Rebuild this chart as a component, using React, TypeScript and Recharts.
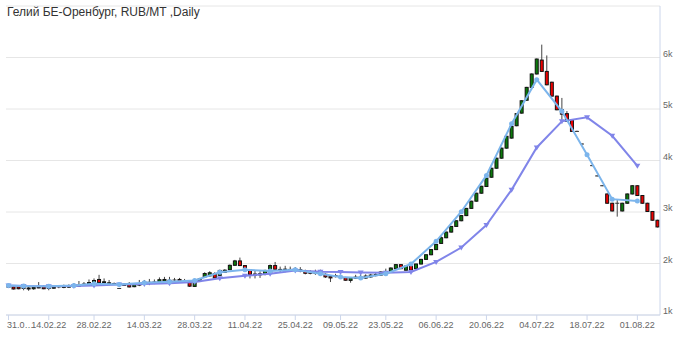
import React from 'react';
import { ComposedChart, Bar, Line, XAxis, YAxis, CartesianGrid } from 'recharts';

const dates = [
  '31.01.22', '03.02.22', '04.02.22', '07.02.22', '08.02.22', '09.02.22', '10.02.22', '11.02.22',
  '14.02.22', '15.02.22', '16.02.22', '17.02.22', '18.02.22', '21.02.22', '22.02.22', '24.02.22', '25.02.22',
  '28.02.22', '01.03.22', '02.03.22', '03.03.22', '04.03.22', '07.03.22', '08.03.22', '09.03.22', '10.03.22', '11.03.22',
  '14.03.22', '15.03.22', '16.03.22', '17.03.22', '18.03.22', '21.03.22', '22.03.22', '23.03.22', '24.03.22', '25.03.22',
  '28.03.22', '29.03.22', '30.03.22', '31.03.22', '01.04.22', '04.04.22', '05.04.22', '06.04.22', '07.04.22', '08.04.22',
  '11.04.22', '12.04.22', '13.04.22', '14.04.22', '15.04.22', '18.04.22', '19.04.22', '20.04.22', '21.04.22', '22.04.22',
  '25.04.22', '26.04.22', '27.04.22', '28.04.22', '29.04.22', '02.05.22', '04.05.22', '05.05.22', '06.05.22',
  '09.05.22', '11.05.22', '12.05.22', '13.05.22', '16.05.22', '17.05.22', '18.05.22', '19.05.22', '20.05.22',
  '23.05.22', '24.05.22', '25.05.22', '26.05.22', '27.05.22', '30.05.22', '31.05.22', '01.06.22', '02.06.22', '03.06.22',
  '06.06.22', '07.06.22', '08.06.22', '09.06.22', '10.06.22', '13.06.22', '14.06.22', '15.06.22', '16.06.22', '17.06.22',
  '20.06.22', '21.06.22', '22.06.22', '23.06.22', '24.06.22', '27.06.22', '28.06.22', '29.06.22', '30.06.22', '01.07.22',
  '04.07.22', '05.07.22', '06.07.22', '07.07.22', '08.07.22', '11.07.22', '12.07.22', '13.07.22', '14.07.22', '15.07.22',
  '18.07.22', '19.07.22', '20.07.22', '21.07.22', '22.07.22', '25.07.22', '26.07.22', '27.07.22', '28.07.22', '29.07.22',
  '01.08.22', '02.08.22', '03.08.22', '04.08.22', '05.08.22',
];

const open = [
  1560, 1545, 1545, 1530, 1520, 1510, 1540, 1545, 1530, 1535,
  1545, 1550, 1555, 1565, 1575, 1580, 1600, 1615, 1690, 1640,
  1620, 1610, 1515, 1590, 1590, 1550, 1595, 1605, 1630, 1635,
  1640, 1660, 1670, 1680, 1690, 1660, 1640, 1555, 1650, 1740,
  1760, 1800, 1770, 1830, 1880, 1965, 2050, 1960, 1870, 1790,
  1795, 1790, 1890, 1960, 1880, 1885, 1880, 1880, 1875, 1855,
  1845, 1830, 1835, 1790, 1745, 1760, 1750, 1725, 1672, 1730,
  1735, 1717, 1740, 1780, 1775, 1840, 1848, 1900, 1978, 1870,
  1960, 1900, 1990, 2080, 2170, 2270, 2390, 2500, 2610, 2720,
  2830, 2930, 3070, 3210, 3365, 3495, 3675, 3850, 4045, 4240,
  4435, 4675, 4920, 5170, 5420, 5680, 5950, 5730, 5520, 5250,
  4990, 4910, 4790, 4565, 4320, 4110, 3900, 3700, 3510, 3350,
  3170, 3170, 3020, 3170, 3350, 3510, 3320, 3170, 3010, 2840,
];

const high = [
  1580, 1570, 1575, 1580, 1560, 1570, 1640, 1580, 1570, 1560,
  1580, 1590, 1595, 1620, 1660, 1640, 1690, 1710, 1780, 1710,
  1680, 1630, 1520, 1620, 1640, 1620, 1680, 1680, 1700, 1690,
  1730, 1740, 1740, 1720, 1720, 1700, 1660, 1660, 1720, 1830,
  1850, 1830, 1880, 1890, 1980, 2070, 2115, 1970, 1880, 1860,
  1850, 1880, 1980, 2030, 1940, 1955, 1940, 1930, 1930, 1880,
  1870, 1880, 1880, 1810, 1760, 1800, 1780, 1740, 1730, 1780,
  1790, 1790, 1800, 1820, 1850, 1900, 1925, 1990, 1990, 1960,
  1990, 2000, 2090, 2180, 2280, 2380, 2530, 2620, 2730, 2840,
  2940, 3080, 3220, 3375, 3510, 3670, 3860, 4055, 4250, 4480,
  4670, 4920, 5170, 5430, 5690, 5980, 6250, 6040, 5530, 5260,
  5215, 4960, 4800, 4580, 4335, 4125, 3915, 3715, 3525, 3360,
  3180, 3230, 3180, 3360, 3520, 3520, 3330, 3180, 3020, 2850,
];

const low = [
  1530, 1495, 1500, 1480, 1470, 1490, 1520, 1500, 1480, 1510,
  1520, 1520, 1525, 1540, 1545, 1565, 1580, 1600, 1620, 1590,
  1575, 1595, 1510, 1570, 1535, 1540, 1560, 1590, 1580, 1600,
  1620, 1640, 1620, 1640, 1640, 1640, 1545, 1545, 1640, 1720,
  1745, 1700, 1760, 1820, 1870, 1955, 1950, 1890, 1710, 1710,
  1720, 1770, 1880, 1880, 1830, 1830, 1840, 1840, 1830, 1790,
  1790, 1780, 1800, 1720, 1640, 1730, 1720, 1665, 1627, 1700,
  1700, 1700, 1720, 1750, 1760, 1800, 1840, 1890, 1890, 1860,
  1860, 1890, 1980, 2070, 2160, 2260, 2380, 2490, 2600, 2710,
  2820, 2920, 3060, 3200, 3355, 3485, 3665, 3840, 4035, 4230,
  4425, 4665, 4910, 5160, 5410, 5670, 5720, 5460, 5240, 4975,
  4790, 4750, 4555, 4555, 4310, 4100, 3890, 3690, 3500, 3160,
  3010, 2910, 3010, 3160, 3340, 3310, 3160, 3000, 2830, 2700,
];

const close = [
  1545, 1505, 1510, 1535, 1525, 1535, 1545, 1510, 1535, 1540,
  1545, 1555, 1560, 1570, 1580, 1600, 1630, 1670, 1630, 1645,
  1625, 1612, 1515, 1595, 1545, 1590, 1600, 1640, 1635, 1640,
  1685, 1690, 1675, 1680, 1655, 1660, 1560, 1640, 1700, 1805,
  1820, 1720, 1865, 1870, 1965, 2050, 1960, 1900, 1790, 1795,
  1800, 1865, 1960, 1890, 1885, 1890, 1885, 1880, 1878, 1810,
  1810, 1832, 1838, 1740, 1720, 1765, 1745, 1675, 1720, 1735,
  1738, 1756, 1775, 1785, 1835, 1845, 1912, 1978, 1900, 1950,
  1870, 1990, 2080, 2170, 2270, 2370, 2500, 2610, 2720, 2830,
  2930, 3070, 3210, 3365, 3500, 3660, 3850, 4045, 4240, 4470,
  4660, 4910, 5160, 5420, 5680, 5970, 5730, 5470, 5250, 4985,
  4900, 4760, 4565, 4565, 4320, 4110, 3900, 3700, 3510, 3170,
  3020, 3170, 3170, 3350, 3510, 3320, 3170, 3010, 2840, 2710,
];

// weekly points of the two average lines
const weekDates = [
  '31.01.22', '07.02.22', '14.02.22', '21.02.22', '28.02.22', '07.03.22', '14.03.22', '21.03.22', '28.03.22',
  '04.04.22', '11.04.22', '18.04.22', '25.04.22', '02.05.22', '09.05.22', '16.05.22', '23.05.22', '30.05.22',
  '06.06.22', '13.06.22', '20.06.22', '27.06.22', '04.07.22', '11.07.22', '18.07.22', '25.07.22', '01.08.22',
];
const fastAvg = [
  1575, 1562, 1560, 1575, 1608, 1594, 1627, 1647, 1672,
  1828, 1880, 1854, 1880, 1803, 1740, 1720, 1800, 1990,
  2430, 3005, 3710, 4715, 5570, 4955, 4110, 3250, 3215,
];
const slowAvg = [
  1575, 1565, 1560, 1565, 1575, 1590, 1600, 1615, 1640,
  1715, 1760, 1800, 1865, 1840, 1835, 1825, 1822, 1835,
  2030, 2310, 2747, 3430, 4253, 4760, 4838, 4480, 3896,
];

const dateTicks = [
  '31.01.22', '14.02.22', '28.02.22', '14.03.22', '28.03.22', '11.04.22', '25.04.22',
  '09.05.22', '23.05.22', '06.06.22', '20.06.22', '04.07.22', '18.07.22', '01.08.22',
];
const priceTicks = [1000, 2000, 3000, 4000, 5000, 6000, 7000];

const rows = dates.map((d, i) => {
  const w = weekDates.indexOf(d);
  return {
    d,
    o: open[i],
    h: high[i],
    l: low[i],
    c: close[i],
    fast: w >= 0 ? fastAvg[w] : undefined,
    slow: w >= 0 ? slowAvg[w] : undefined,
  };
});

const FONT = '"Liberation Sans", Arial, sans-serif';

const Candle = (props: any) => {
  const { x, y, width, height, payload } = props;
  const { o, h, l, c } = payload;
  const span = h - l || 1;
  const py = (v: number) => y + ((h - v) / span) * height;
  const cx = x + width / 2;
  const top = py(Math.max(o, c));
  const bot = py(Math.min(o, c));
  const flat = Math.abs(c - o) < 1;
  return (
    <g>
      <line x1={cx} x2={cx} y1={y} y2={y + height} stroke="#444" strokeWidth={1} />
      {flat ? (
        <line x1={x - 0.5} x2={x + width + 0.5} y1={top} y2={top} stroke="#333" strokeWidth={1} />
      ) : (
        <rect
          x={x}
          y={top}
          width={width}
          height={Math.max(bot - top, 1)}
          fill={c > o ? '#0b7a0b' : '#ee0000'}
          stroke="#111"
          strokeWidth={1}
        />
      )}
    </g>
  );
};

const DateTick = (props: any) => {
  const { x, payload } = props;
  if (payload.value === '31.01.22') {
    return (
      <text x={7} y={328} fontSize={9} fill="#666" fontFamily={FONT}>31.0…</text>
    );
  }
  return (
    <text x={x} y={328} textAnchor="middle" fontSize={9} fill="#666" fontFamily={FONT}>
      {payload.value}
    </text>
  );
};

const PriceTick = (props: any) => {
  const { y, payload } = props;
  if (payload.value === 7000) return <g />;
  return (
    <text x={663} y={y - 1} fontSize={9} fill="#666" fontFamily={FONT}>
      {payload.value / 1000}k
    </text>
  );
};

const circleDot = (props: any) => {
  const { cx, cy, value, index } = props;
  if (value == null) return <g key={`f${index}`} />;
  return <circle key={`f${index}`} cx={cx} cy={cy} r={2.5} fill="#7cb5ec" />;
};

const triangleDot = (props: any) => {
  const { cx, cy, value, index } = props;
  if (value == null) return <g key={`s${index}`} />;
  return (
    <path
      key={`s${index}`}
      d={`M${cx - 3},${cy - 2} L${cx + 3},${cy - 2} L${cx},${cy + 3} Z`}
      fill="#8085e9"
    />
  );
};

const App: React.FC = () => {
  return (
    <div style={{ position: 'absolute', left: 0, top: 0, width: 680, height: 337, background: '#fff' }}>
      <ComposedChart width={680} height={337} data={rows} margin={{ top: 6, right: 0, bottom: 0, left: 6 }}>
        <CartesianGrid horizontal vertical={false} stroke="#e6e6e6" />
        <XAxis
          dataKey="d"
          type="category"
          ticks={dateTicks}
          interval={0}
          height={22}
          tickSize={5}
          axisLine={{ stroke: '#ccd6eb' }}
          tickLine={{ stroke: '#ccd6eb' }}
          tick={<DateTick />}
        />
        <YAxis
          orientation="right"
          width={20}
          domain={[1000, 7000]}
          ticks={priceTicks}
          allowDataOverflow
          axisLine={{ stroke: '#ccd6eb' }}
          tickLine={false}
          tick={<PriceTick />}
        />
        <Bar dataKey={(r: any) => [r.l, r.h]} barSize={3} shape={<Candle />} isAnimationActive={false} />
        <Line
          type="linear"
          dataKey="slow"
          stroke="#8085e9"
          strokeWidth={2}
          connectNulls
          dot={triangleDot}
          activeDot={false}
          isAnimationActive={false}
        />
        <Line
          type="linear"
          dataKey="fast"
          stroke="#7cb5ec"
          strokeWidth={2}
          connectNulls
          dot={circleDot}
          activeDot={false}
          isAnimationActive={false}
        />
      </ComposedChart>
      <div
        style={{
          position: 'absolute',
          left: 7,
          top: 5,
          fontFamily: FONT,
          fontSize: 12,
          lineHeight: '14px',
          color: '#333',
          whiteSpace: 'nowrap',
        }}
      >
        Гелий БЕ-Оренбург, RUB/MT ,Daily
      </div>
    </div>
  );
};

export default App;
